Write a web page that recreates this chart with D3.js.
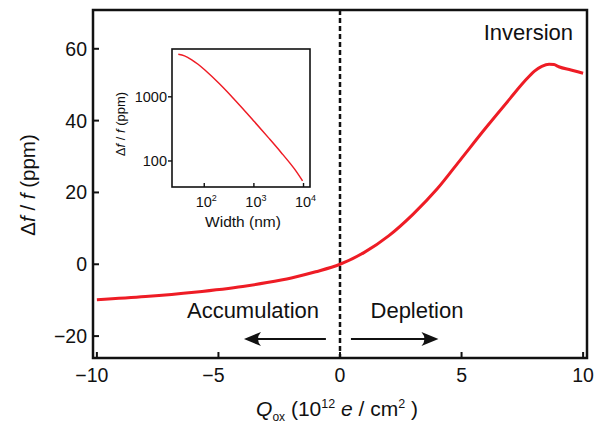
<!DOCTYPE html>
<html>
<head>
<meta charset="utf-8">
<script src="https://cdn.jsdelivr.net/npm/d3@7"></script>
<style>
	body { margin: 0; background: #fff; }
	text { font-family: "Liberation Sans", Arial, sans-serif; fill: #111; }
</style>
</head>
<body>
<div id="chart"></div>
<script>
// main curve: oxide charge (1e12 e/cm2) vs frequency shift (ppm)
var qox = [-10, -8, -6, -4, -3, -2, -1, 0, 1, 2, 3, 4, 5, 6, 7, 7.6, 8.0, 8.3, 8.6, 8.8, 9.0, 9.5, 10];
var dff = [-9.9, -9.0, -7.8, -6.2, -5.1, -3.8, -2.1, 0, 3.3, 7.9, 13.9, 21.0, 29.5, 38.0, 46.2, 51.0, 53.8, 55.1, 55.7, 55.6, 55.0, 54.1, 53.2];
var xTicks = [-10, -5, 0, 5, 10];
var yTicks = [-20, 0, 20, 40, 60];

// inset: width (nm) vs frequency shift (ppm), log-log
var insetWidth = [30, 40, 56, 75, 103, 200, 352, 600, 1030, 2000, 3530, 6500, 9560];
var insetDff = [4600, 4345, 3776, 3214, 2612, 1611, 1023, 652, 407, 227, 136, 76, 49];
var insetXTicks = [100, 1000, 10000];
var insetYTicks = [100, 1000];

var red = "#ee1c25";
var svg = d3.select("#chart").append("svg")
	.attr("width", 611)
	.attr("height", 423);

var x = d3.scaleLinear().domain([-10.16, 10.16]).range([93, 587]);
var y = d3.scaleLinear().domain([-26.1, 70.8]).range([358, 10]);

// frame
svg.append("rect")
	.attr("x", x.range()[0]).attr("y", y.range()[1])
	.attr("width", x.range()[1] - x.range()[0])
	.attr("height", y.range()[0] - y.range()[1])
	.attr("fill", "none").attr("stroke", "#111").attr("stroke-width", 2.5);

// inward ticks
svg.selectAll("line.xtick").data(xTicks).enter().append("line")
	.attr("x1", function(d) { return x(d); }).attr("x2", function(d) { return x(d); })
	.attr("y1", y.range()[0]).attr("y2", y.range()[0] - 6)
	.attr("stroke", "#111").attr("stroke-width", 2);
svg.selectAll("line.ytick").data(yTicks).enter().append("line")
	.attr("x1", x.range()[0]).attr("x2", x.range()[0] + 6)
	.attr("y1", function(d) { return y(d); }).attr("y2", function(d) { return y(d); })
	.attr("stroke", "#111").attr("stroke-width", 2);

var fmt = function(d) { return d < 0 ? "\u2212" + Math.abs(d) : "" + d; };
svg.selectAll("text.xlab").data(xTicks).enter().append("text")
	.attr("x", function(d) { return x(d) - (d < 0 ? 5 : 0); })
	.attr("y", 382)
	.attr("text-anchor", "middle")
	.style("font-size", "19.5px")
	.text(fmt);
svg.selectAll("text.ylab").data(yTicks).enter().append("text")
	.attr("x", 87)
	.attr("y", function(d) { return y(d) + 7; })
	.attr("text-anchor", "end")
	.style("font-size", "19.5px")
	.text(fmt);

// dashed zero line
svg.append("line")
	.attr("x1", x(0)).attr("x2", x(0))
	.attr("y1", y.range()[1]).attr("y2", y.range()[0])
	.attr("stroke", "#111").attr("stroke-width", 2.5)
	.attr("stroke-dasharray", "5,3");

// main curve
var line = d3.line()
	.x(function(d) { return x(d[0]); })
	.y(function(d) { return y(d[1]); })
	.curve(d3.curveMonotoneX);
svg.append("path")
	.datum(d3.zip(qox, dff))
	.attr("d", line)
	.attr("fill", "none").attr("stroke", red).attr("stroke-width", 3);

// annotations
svg.append("text").attr("x", 573).attr("y", 40).attr("text-anchor", "end")
	.style("font-size", "22px").text("Inversion");
svg.append("text").attr("x", 253).attr("y", 318).attr("text-anchor", "middle")
	.style("font-size", "22px").text("Accumulation");
svg.append("text").attr("x", 417).attr("y", 318).attr("text-anchor", "middle")
	.style("font-size", "22px").text("Depletion");

function arrow(x0, x1, yy) {
	var dir = x1 > x0 ? 1 : -1;
	svg.append("line")
		.attr("x1", x0).attr("x2", x1 - dir * 8)
		.attr("y1", yy).attr("y2", yy)
		.attr("stroke", "#111").attr("stroke-width", 2.2);
	var p = d3.path();
	p.moveTo(x1, yy);
	p.lineTo(x1 - dir * 17, yy - 7);
	p.quadraticCurveTo(x1 - dir * 11, yy, x1 - dir * 17, yy + 7);
	p.closePath();
	svg.append("path").attr("d", p.toString()).attr("fill", "#111");
}
arrow(x(-0.58), x(-3.95), 339);
arrow(x(0.45), x(4.05), 339);

// axis titles
var yt = svg.append("text")
	.attr("transform", "translate(35,185) rotate(-90)")
	.attr("text-anchor", "middle")
	.style("font-size", "20.5px");
yt.append("tspan").text("\u0394");
yt.append("tspan").style("font-style", "italic").text("f");
yt.append("tspan").text(" / ");
yt.append("tspan").style("font-style", "italic").text("f");
yt.append("tspan").text(" (ppm)");

var xt = svg.append("text")
	.attr("x", 337).attr("y", 416)
	.attr("text-anchor", "middle")
	.style("font-size", "21px");
xt.append("tspan").style("font-style", "italic").text("Q");
xt.append("tspan").attr("dy", 5).style("font-size", "12px").text("ox");
xt.append("tspan").attr("dy", -5).text(" (10");
xt.append("tspan").attr("dy", -8).style("font-size", "12.5px").text("12");
xt.append("tspan").attr("dy", 8).text(" ");
xt.append("tspan").style("font-style", "italic").text("e");
xt.append("tspan").text(" / cm");
xt.append("tspan").attr("dy", -8).style("font-size", "12.5px").text("2");
xt.append("tspan").attr("dy", 8).text(" )");

// inset
var ix = d3.scaleLog().domain([22.4, 13500]).range([172, 310]);
var iy = d3.scaleLog().domain([39.3, 5560]).range([187, 49]);
var inset = svg.append("g");
inset.append("rect")
	.attr("x", ix.range()[0]).attr("y", iy.range()[1])
	.attr("width", ix.range()[1] - ix.range()[0])
	.attr("height", iy.range()[0] - iy.range()[1])
	.attr("fill", "#fff").attr("stroke", "#111").attr("stroke-width", 1.6);
inset.selectAll("line.ixt").data(insetXTicks).enter().append("line")
	.attr("x1", function(d) { return ix(d); }).attr("x2", function(d) { return ix(d); })
	.attr("y1", iy.range()[0]).attr("y2", iy.range()[0] - 4)
	.attr("stroke", "#111").attr("stroke-width", 1.4);
inset.selectAll("line.iyt").data(insetYTicks).enter().append("line")
	.attr("x1", ix.range()[0]).attr("x2", ix.range()[0] - 4)
	.attr("y1", function(d) { return iy(d); }).attr("y2", function(d) { return iy(d); })
	.attr("stroke", "#111").attr("stroke-width", 1.4);
inset.selectAll("text.iyl").data(insetYTicks).enter().append("text")
	.attr("x", ix.range()[0] - 5)
	.attr("y", function(d) { return iy(d) + 5; })
	.attr("text-anchor", "end")
	.style("font-size", "14.5px")
	.text(function(d) { return d; });
inset.selectAll("text.ixl").data(insetXTicks).enter().append("text")
	.attr("x", function(d) { return ix(d) + 2; })
	.attr("y", 207)
	.attr("text-anchor", "middle")
	.style("font-size", "14.5px")
	.each(function(d) {
		var t = d3.select(this);
		t.append("tspan").text("10");
		t.append("tspan").attr("dy", -6).style("font-size", "9px").text(Math.round(Math.log10(d)));
	});
inset.append("text").attr("x", 243).attr("y", 227).attr("text-anchor", "middle")
	.style("font-size", "15.5px").text("Width (nm)");
var iyt = inset.append("text")
	.attr("transform", "translate(125,124) rotate(-90)")
	.attr("text-anchor", "middle")
	.style("font-size", "13px");
iyt.append("tspan").text("\u0394");
iyt.append("tspan").style("font-style", "italic").text("f");
iyt.append("tspan").text(" / ");
iyt.append("tspan").style("font-style", "italic").text("f");
iyt.append("tspan").text(" (ppm)");

var iline = d3.line()
	.x(function(d) { return ix(d[0]); })
	.y(function(d) { return iy(d[1]); })
	.curve(d3.curveCatmullRom.alpha(0.5));
inset.append("path")
	.datum(d3.zip(insetWidth, insetDff))
	.attr("d", iline)
	.attr("fill", "none").attr("stroke", red).attr("stroke-width", 1.5);
</script>
</body>
</html>
